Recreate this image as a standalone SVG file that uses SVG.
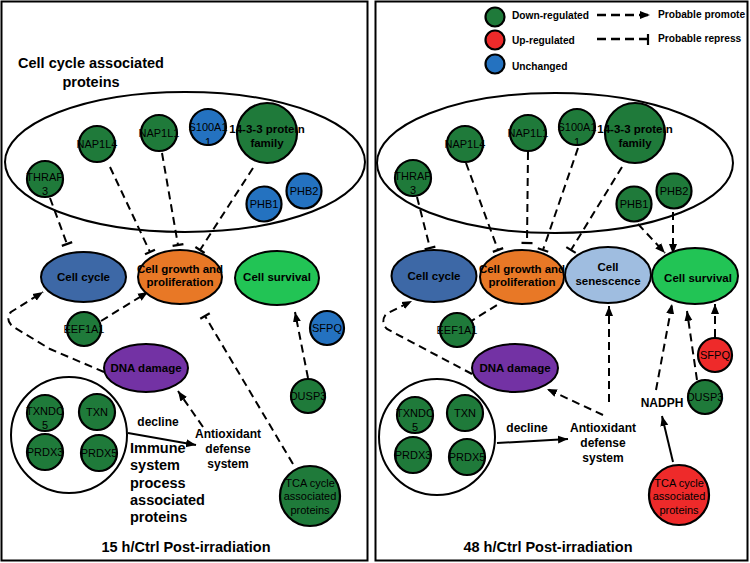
<svg xmlns="http://www.w3.org/2000/svg" width="750" height="563" viewBox="0 0 750 563">
<style>
text{font-family:"Liberation Sans",Arial,sans-serif;fill:#000;text-anchor:middle}
.lbl{font-size:11.5px;font-weight:bold}
.pl{font-size:11px}
.big{font-size:14.5px;font-weight:bold}
.mid{font-size:12px;font-weight:bold}
.leg{font-size:10.2px;font-weight:bold;text-anchor:start}
.panel{fill:#fff;stroke:#000;stroke-width:2}
.grp{fill:none;stroke:#000;stroke-width:2}
.dn{fill:#1f7a3a;stroke:#000;stroke-width:2.2}
.up{fill:#ee2a2a;stroke:#000;stroke-width:2.2}
.un{fill:#2472c0;stroke:#000;stroke-width:2.2}
.ell{stroke:#000;stroke-width:2}
.cc{fill:#3d68a6}
.cg{fill:#e87826}
.cs{fill:#22c455}
.se{fill:#9fbde0}
.dd{fill:#7332a4}
.dp{fill:none;stroke:#000;stroke-width:2;stroke-dasharray:8,5;marker-end:url(#arr)}
.dr{fill:none;stroke:#000;stroke-width:2;stroke-dasharray:8,5;marker-end:url(#tee)}
.dl{fill:none;stroke:#000;stroke-width:2;stroke-dasharray:8,5}
.so{fill:none;stroke:#000;stroke-width:2;marker-end:url(#arr)}
</style>
<defs>
<marker id="arr" markerUnits="userSpaceOnUse" markerWidth="12" markerHeight="10" viewBox="0 -5 12 10" refX="10" refY="0" orient="auto">
<path d="M0,-4 L10,0 L0,4 Z" fill="#000"/>
</marker>
<marker id="tee" markerUnits="userSpaceOnUse" markerWidth="4" markerHeight="14" viewBox="-2 -7 4 14" refX="0" refY="0" orient="auto">
<path d="M0,-5.5 L0,5.5" stroke="#000" stroke-width="2.2" fill="none"/>
</marker>
</defs>

<!-- Panels -->
<rect class="panel" x="1.5" y="1.5" width="366" height="559"/>
<rect class="panel" x="375.5" y="1.5" width="372" height="559"/>

<!-- ===== LEFT PANEL ===== -->
<g id="L-title"><text class="big" x="91" y="68">Cell cycle associated</text><text class="big" x="91" y="87">proteins</text></g>
<ellipse id="L-cellcycle-group" class="grp" cx="185" cy="162" rx="180" ry="70"/>
<g id="L-immune-group"><circle class="grp" cx="69" cy="435" r="58"/></g>

<g id="L-connectors">
<path class="dr" d="M50,198 L67,244"/>
<path class="dr" d="M110,167 L150,252"/>
<path class="dr" d="M162,153 L178,245"/>
<path class="dr" d="M253,168 L200,250"/>
<path class="dp" d="M101,321 L148,292"/>
<path class="dp" d="M104,372 L50,349 L12,326 Q5,319 11,312 L43,292"/>
<path class="dr" d="M293,464 L205,316"/>
<path class="dp" d="M308,378 L295,312"/>
<path class="dp" d="M203,427 L178,391"/>
<path class="so" d="M128,433 L196,445"/>
</g>

<g id="L-THRAP3"><circle class="dn" cx="45" cy="179" r="18"/><text class="pl" x="45" y="181">THRAP</text><text class="pl" x="45" y="195">3</text></g>
<g id="L-NAP1L4"><circle class="dn" cx="97" cy="144" r="18"/><text class="pl" x="97" y="148">NAP1L4</text></g>
<g id="L-NAP1L1"><circle class="dn" cx="159" cy="133" r="18"/><text class="pl" x="159" y="137">NAP1L1</text></g>
<g id="L-S100A11"><circle class="un" cx="208" cy="127" r="18"/><text class="pl" x="208" y="131">S100A1</text><text class="pl" x="208" y="146">1</text></g>
<g id="L-1433"><circle class="dn" cx="267" cy="133" r="30"/><text class="lbl" x="267" y="133">14-3-3 protein</text><text class="lbl" x="267" y="147">family</text></g>
<g id="L-PHB2"><circle class="un" cx="304" cy="191" r="17.5"/><text class="pl" x="304" y="195">PHB2</text></g>
<g id="L-PHB1"><circle class="un" cx="264" cy="204" r="17.5"/><text class="pl" x="264" y="208">PHB1</text></g>
<g id="L-cellcycle"><ellipse class="ell cc" cx="83.5" cy="277" rx="42.5" ry="25"/><text class="lbl" x="83.5" y="281">Cell cycle</text></g>
<g id="L-cellgrowth"><ellipse class="ell cg" cx="180" cy="277" rx="42" ry="27"/><text class="lbl" x="180" y="273">Cell growth and</text><text class="lbl" x="180" y="286">proliferation</text></g>
<g id="L-cellsurvival"><ellipse class="ell cs" cx="277" cy="278" rx="42" ry="27"/><text class="lbl" x="277" y="281">Cell survival</text></g>
<g id="L-EEF1A1"><circle class="dn" cx="84" cy="329" r="17"/><text class="pl" x="84" y="333">EEF1A1</text></g>
<g id="L-SFPQ"><circle class="un" cx="327" cy="328" r="17"/><text class="pl" x="327" y="332">SFPQ</text></g>
<g id="L-DNAdamage"><ellipse class="ell dd" cx="146" cy="368" rx="42" ry="24"/><text class="lbl" x="146" y="372">DNA damage</text></g>
<g id="L-DUSP3"><circle class="dn" cx="308" cy="396" r="17"/><text class="pl" x="308" y="400">DUSP3</text></g>
<g id="L-TXNDC5"><circle class="dn" cx="45" cy="413" r="18"/><text class="pl" x="45" y="415">TXNDC</text><text class="pl" x="45" y="429">5</text></g>
<g id="L-TXN"><circle class="dn" cx="97" cy="412" r="18"/><text class="pl" x="97" y="416">TXN</text></g>
<g id="L-PRDX3"><circle class="dn" cx="45" cy="452" r="18"/><text class="pl" x="45" y="456">PRDX3</text></g>
<g id="L-PRDX5"><circle class="dn" cx="99" cy="453" r="18"/><text class="pl" x="99" y="457">PRDX5</text></g>
<g id="L-TCA"><circle class="dn" cx="310" cy="496" r="30"/><text class="pl" x="310" y="487">TCA cycle</text><text class="pl" x="310" y="500">associated</text><text class="pl" x="310" y="514">proteins</text></g>
<g id="L-decline"><text class="mid" x="158" y="426">decline</text></g>
<g id="L-antioxidant"><text class="mid" x="228" y="438">Antioxidant</text><text class="mid" x="228" y="453">defense</text><text class="mid" x="228" y="468">system</text></g>
<g id="L-immune-label"><text class="big" style="text-anchor:start" x="130" y="453">Immune</text><text class="big" style="text-anchor:start" x="130" y="470">system</text><text class="big" style="text-anchor:start" x="130" y="488">process</text><text class="big" style="text-anchor:start" x="130" y="505">associated</text><text class="big" style="text-anchor:start" x="130" y="522">proteins</text></g>
<g id="L-caption"><text class="big" x="186" y="552">15 h/Ctrl Post-irradiation</text></g>

<!-- ===== RIGHT PANEL ===== -->
<g id="legend">
<circle class="dn" cx="495" cy="17" r="9.5"/><text class="leg" x="512" y="19">Down-regulated</text>
<circle class="up" cx="495" cy="40" r="9.5"/><text class="leg" x="512" y="44">Up-regulated</text>
<circle class="un" cx="495" cy="64" r="9.5"/><text class="leg" x="512" y="70">Unchanged</text>
<path d="M597,15 L650,15" fill="none" stroke="#000" stroke-width="2.5" stroke-dasharray="9,5" marker-end="url(#arr)"/>
<path d="M597,39 L647,39" fill="none" stroke="#000" stroke-width="2.5" stroke-dasharray="9,5"/>
<path d="M648,34 L648,45" stroke="#000" stroke-width="2.2"/>
<text class="leg" x="658" y="18">Probable promote</text>
<text class="leg" x="658" y="42">Probable repress</text>
</g>
<ellipse id="R-cellcycle-group" class="grp" cx="555" cy="163" rx="178" ry="70"/>
<g id="R-immune-group"><circle class="grp" cx="437" cy="437" r="58"/></g>

<g id="R-connectors">
<path class="dr" d="M417,197 L430,248"/>
<path class="dr" d="M466,163 L498,250"/>
<path class="dr" d="M528,152 L527,243"/>
<path class="dr" d="M578,148 L543,250"/>
<path class="dr" d="M622,167 L571,250"/>
<path class="dp" d="M638,224 L665,253"/>
<path class="dp" d="M673,212 L673,254"/>
<path class="dl" d="M468,323 L497,305"/>
<path class="dp" d="M472,374 L387,329 Q380,322 386,314 L412,301"/>
<path class="dp" d="M609,402 L609,306"/>
<path class="dp" d="M603,415 L547,389"/>
<path class="dp" d="M656,390 L672,304"/>
<path class="so" d="M673,462 L662,416"/>
<path class="dp" d="M697,380 L687,311"/>
<path class="dp" d="M715,337 L715,304"/>
<path class="so" d="M497,443 L568,439"/>
</g>

<g id="R-THRAP3"><circle class="dn" cx="413" cy="178" r="18"/><text class="pl" x="413" y="180">THRAP</text><text class="pl" x="413" y="194">3</text></g>
<g id="R-NAP1L4"><circle class="dn" cx="465" cy="144" r="18"/><text class="pl" x="465" y="148">NAP1L4</text></g>
<g id="R-NAP1L1"><circle class="dn" cx="528" cy="133" r="18"/><text class="pl" x="528" y="137">NAP1L1</text></g>
<g id="R-S100A11"><circle class="dn" cx="577" cy="127" r="18"/><text class="pl" x="577" y="131">S100A1</text><text class="pl" x="577" y="146">1</text></g>
<g id="R-1433"><circle class="dn" cx="635" cy="133" r="30"/><text class="lbl" x="635" y="133">14-3-3 protein</text><text class="lbl" x="635" y="147">family</text></g>
<g id="R-PHB2"><circle class="dn" cx="674" cy="191" r="17.5"/><text class="pl" x="674" y="195">PHB2</text></g>
<g id="R-PHB1"><circle class="dn" cx="634" cy="204" r="17.5"/><text class="pl" x="634" y="208">PHB1</text></g>
<g id="R-cellcycle"><ellipse class="ell cc" cx="434" cy="276" rx="42.5" ry="26"/><text class="lbl" x="434" y="280">Cell cycle</text></g>
<g id="R-cellgrowth"><ellipse class="ell cg" cx="522" cy="277" rx="42" ry="27"/><text class="lbl" x="522" y="273">Cell growth and</text><text class="lbl" x="522" y="286">proliferation</text></g>
<g id="R-senescence"><ellipse class="ell se" cx="608" cy="275" rx="43" ry="28"/><text class="lbl" x="608" y="271">Cell</text><text class="lbl" x="608" y="285">senescence</text></g>
<g id="R-cellsurvival"><ellipse class="ell cs" cx="695" cy="276" rx="43" ry="28"/><text class="lbl" x="698" y="282">Cell survival</text></g>
<g id="R-EEF1A1"><circle class="dn" cx="457" cy="330" r="17"/><text class="pl" x="457" y="334">EEF1A1</text></g>
<g id="R-SFPQ"><circle class="up" cx="715" cy="355" r="17"/><text class="pl" x="715" y="359">SFPQ</text></g>
<g id="R-DNAdamage"><ellipse class="ell dd" cx="515" cy="368" rx="43" ry="24"/><text class="lbl" x="515" y="372">DNA damage</text></g>
<g id="R-DUSP3"><circle class="dn" cx="705" cy="397" r="17"/><text class="pl" x="705" y="401">DUSP3</text></g>
<g id="R-NADPH"><text class="mid" x="662" y="407">NADPH</text></g>
<g id="R-TXNDC5"><circle class="dn" cx="415" cy="415" r="18"/><text class="pl" x="415" y="417">TXNDC</text><text class="pl" x="415" y="431">5</text></g>
<g id="R-TXN"><circle class="dn" cx="465" cy="413" r="18"/><text class="pl" x="465" y="417">TXN</text></g>
<g id="R-PRDX3"><circle class="dn" cx="413" cy="455" r="18"/><text class="pl" x="413" y="459">PRDX3</text></g>
<g id="R-PRDX5"><circle class="dn" cx="467" cy="457" r="18"/><text class="pl" x="467" y="461">PRDX5</text></g>
<g id="R-TCA"><circle class="up" cx="679" cy="495" r="30"/><text class="pl" x="679" y="487">TCA cycle</text><text class="pl" x="679" y="500">associated</text><text class="pl" x="679" y="514">proteins</text></g>
<g id="R-decline"><text class="mid" x="527" y="432">decline</text></g>
<g id="R-antioxidant"><text class="mid" x="603" y="432">Antioxidant</text><text class="mid" x="603" y="447">defense</text><text class="mid" x="603" y="462">system</text></g>
<g id="R-caption"><text class="big" x="548" y="552">48 h/Ctrl Post-irradiation</text></g>
</svg>
